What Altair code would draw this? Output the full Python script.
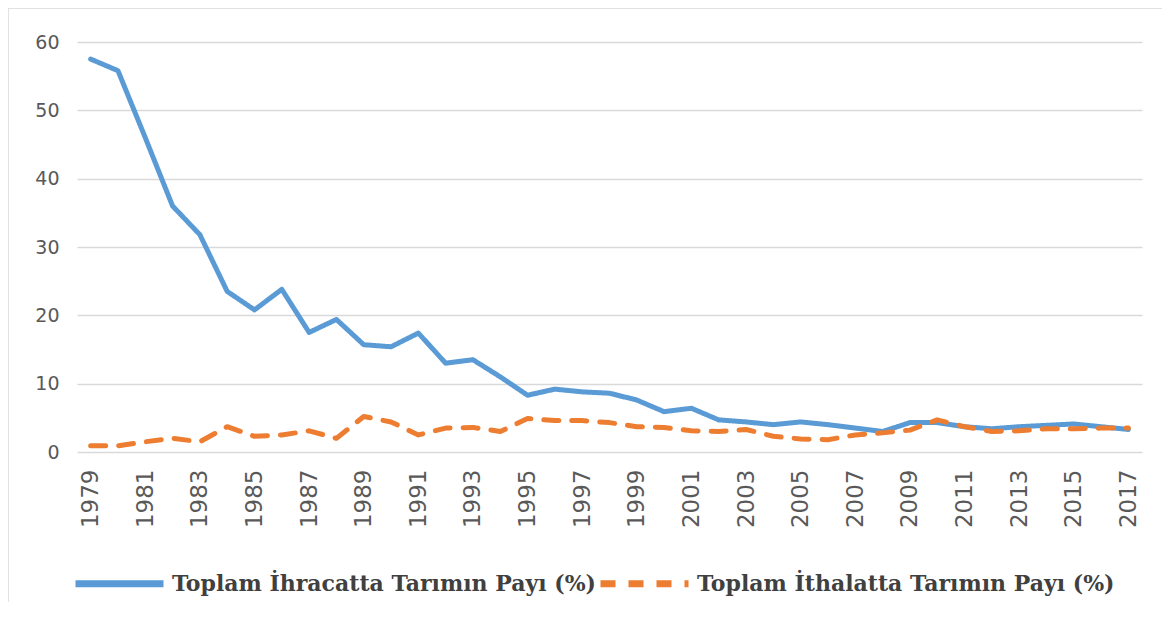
import altair as alt
import pandas as pd

years = list(range(1979, 2018))
export_share = [57.5, 55.8, 46.0, 36.0, 31.8, 23.5, 20.8, 23.8, 17.5, 19.4,
                15.7, 15.4, 17.4, 13.0, 13.5, 11.0, 8.3, 9.2, 8.8, 8.6,
                7.6, 5.9, 6.4, 4.7, 4.4, 4.0, 4.4, 4.0, 3.5, 3.0,
                4.3, 4.3, 3.7, 3.4, 3.7, 3.9, 4.1, 3.7, 3.3]
import_share = [0.9, 0.9, 1.5, 2.0, 1.5, 3.7, 2.3, 2.5, 3.1, 2.0,
                5.2, 4.4, 2.5, 3.5, 3.6, 3.0, 4.9, 4.6, 4.6, 4.3,
                3.7, 3.6, 3.1, 3.0, 3.3, 2.3, 1.9, 1.8, 2.5, 2.8,
                3.2, 4.7, 3.7, 3.0, 3.1, 3.4, 3.4, 3.5, 3.5]
series_names = ["Toplam İhracatta Tarımın Payı (%)", "Toplam İthalatta Tarımın Payı (%)"]
label_years = list(range(1979, 2018, 2))
y_ticks = [0, 10, 20, 30, 40, 50, 60]

rows = []
for i, yr in enumerate(years):
    rows.append({"Yıl": yr, "Seri": series_names[0], "Değer": export_share[i]})
    rows.append({"Yıl": yr, "Seri": series_names[1], "Değer": import_share[i]})
df = pd.DataFrame(rows)

frame = alt.Chart(alt.Data(values=[{}])).mark_rect(
    fill=None, stroke="#d9d9d9", strokeWidth=1.5
).encode(
    x=alt.value(-69), y=alt.value(-34), x2=alt.value(1300), y2=alt.value(900)
)

lines = alt.Chart(df).mark_line(strokeWidth=5, strokeCap="round", strokeJoin="round").encode(
    x=alt.X("Yıl:O", scale=alt.Scale(type="point", padding=0.5),
            axis=alt.Axis(title=None, values=label_years, labelAngle=-90,
                          labelFont="DejaVu Sans", labelFontSize=23, labelColor="#595959",
                          ticks=False, domain=False, labelPadding=17, grid=False,
                          labelBaseline="middle", labelAlign="right")),
    y=alt.Y("Değer:Q", scale=alt.Scale(domain=[0, 60], nice=False),
            axis=alt.Axis(title=None, values=y_ticks, labelFont="DejaVu Sans", labelFontSize=19,
                          labelColor="#595959", ticks=False, domain=False, labelPadding=18,
                          grid=True, gridColor="#d9d9d9", gridWidth=1.5)),
    color=alt.Color("Seri:N", scale=alt.Scale(domain=series_names, range=["#5b9bd5", "#ed7d31"]),
                    legend=alt.Legend(title=None, orient="none", legendX=-5, legendY=494,
                                      direction="horizontal", symbolType="stroke",
                                      symbolSize=7744, symbolStrokeWidth=7,
                                      labelFont="DejaVu Serif", labelFontWeight="bold",
                                      labelFontSize=22, labelColor="#404040",
                                      labelLimit=700, labelOffset=5, columnPadding=-10)),
    strokeDash=alt.StrokeDash("Seri:N", scale=alt.Scale(domain=series_names, range=[[1, 0], [15, 13]]),
                              legend=None),
    order=alt.Order("Yıl:O"),
)

chart = alt.layer(frame, lines).properties(
    width=1065, height=410,
    autosize=alt.AutoSizeParams(type="none"),
    padding={"left": 69, "top": 34, "right": 20, "bottom": 150},
).configure_view(stroke=None)

chart.save("out.html", embed_options={"renderer": "svg", "actions": False})
